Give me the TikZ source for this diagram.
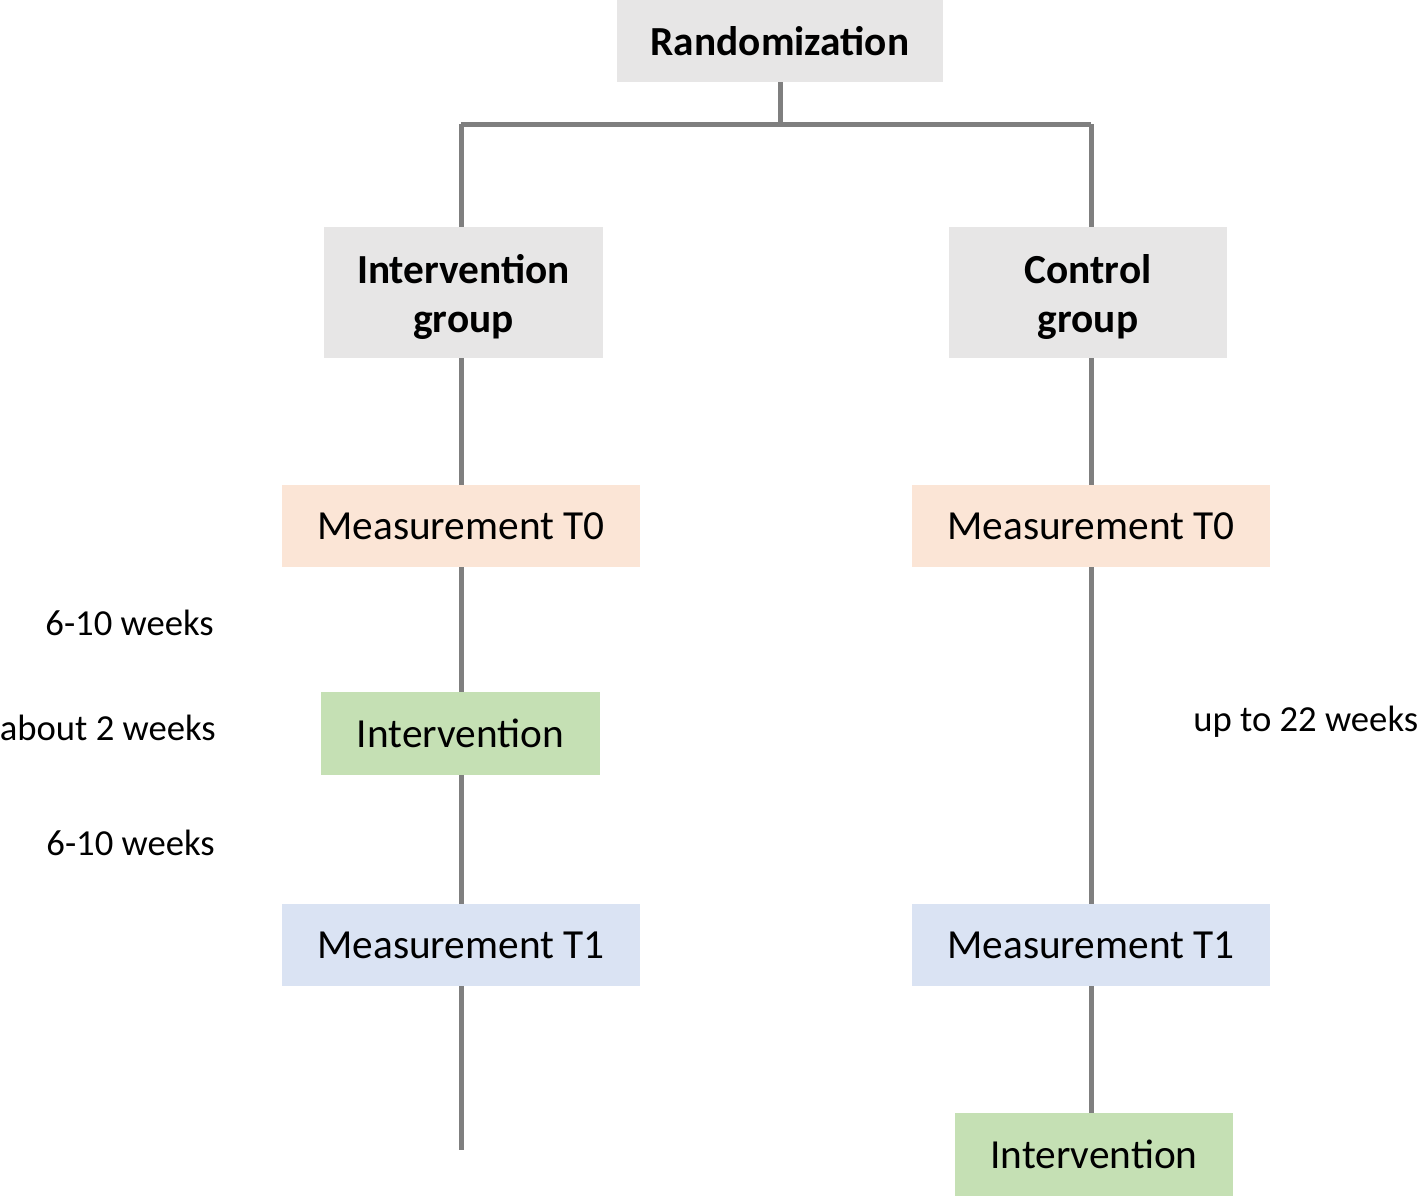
\documentclass[tikz,border=0pt]{standalone}
\usepackage{fontspec}
\setmainfont{Carlito}
\definecolor{boxgray}{HTML}{E7E6E6}
\definecolor{boxpeach}{HTML}{FBE5D6}
\definecolor{boxgreen}{HTML}{C5E0B4}
\definecolor{boxblue}{HTML}{DAE3F3}
\definecolor{linegray}{HTML}{7F7F7F}
\tikzset{
  box/.style={inner sep=0pt, align=center, font=\fontsize{31}{37}\selectfont},
  grp/.style={box, fill=boxgray, font=\fontsize{31}{37}\selectfont\bfseries},
  grptext/.style={inner sep=0pt, align=center, font=\fontsize{31}{37}\selectfont\bfseries},
  meas0/.style={box, fill=boxpeach, minimum width=268.5pt, minimum height=61.5pt},
  meas1/.style={box, fill=boxblue, minimum width=268.5pt, minimum height=61.5pt},
  interv/.style={box, fill=boxgreen, minimum width=209pt, minimum height=62.25pt},
  conn/.style={draw=linegray, line width=3.75pt},
  lbl/.style={inner sep=0pt, font=\fontsize{27.5}{33}\selectfont}
}
\begin{document}
\begin{tikzpicture}[x=0.75pt,y=-0.75pt]
\useasboundingbox (0,0) rectangle (1418,1196);
% nodes
\node[grp, minimum width=244.5pt, minimum height=61.5pt] (rand) at (780,41) {Randomization};
\node[grp, minimum width=209.25pt, minimum height=98.25pt] (ig) at (463.5,292.5) {};
\node[grptext] (igt) at (463.5,297) {Intervention\\group};
\node[grp, minimum width=208.5pt, minimum height=98.25pt] (cg) at (1088,292.5) {};
\node[grptext] (cgt) at (1088,297) {Control\\group};
\node[meas0] (t0l) at (461,526) {Measurement T0};
\node[meas0] (t0r) at (1091,526) {Measurement T0};
\node[interv] (intl) at (460.5,733.5) {Intervention};
\node[meas1] (t1l) at (461,945) {Measurement T1};
\node[meas1] (t1r) at (1091,945) {Measurement T1};
\node[interv] (intr) at (1094,1154.5) {Intervention};
% labels
\node[lbl, anchor=east] (l1) at (214,623) {6-10 weeks};
\node[lbl, anchor=east] (l2) at (216,728) {about 2 weeks};
\node[lbl, anchor=east] (l3) at (215,843) {6-10 weeks};
\node[lbl, anchor=west] (l4) at (1193,722) {up to 22 weeks};
% coordinates
\coordinate (split) at (780,124);
\coordinate (lsplit) at (461,124);
\coordinate (rsplit) at (1091,124);
\coordinate (lend) at (461,1150);
% connectors
\draw[conn] (rand.south) -- (split);
\draw[conn] (lsplit) -- (rsplit);
\draw[conn] (lsplit) -- (lsplit |- ig.north);
\draw[conn] (rsplit) -- (rsplit |- cg.north);
\draw[conn] (t0l.north |- ig.south) -- (t0l.north);
\draw[conn] (t0l.south) -- (t0l.south |- intl.north);
\draw[conn] (t0l.south |- intl.south) -- (t1l.north);
\draw[conn] (t1l.south) -- (lend);
\draw[conn] (t0r.north |- cg.south) -- (t0r.north);
\draw[conn] (t0r.south) -- (t1r.north);
\draw[conn] (t1r.south) -- (t1r.south |- intr.north);
\end{tikzpicture}
\end{document}
